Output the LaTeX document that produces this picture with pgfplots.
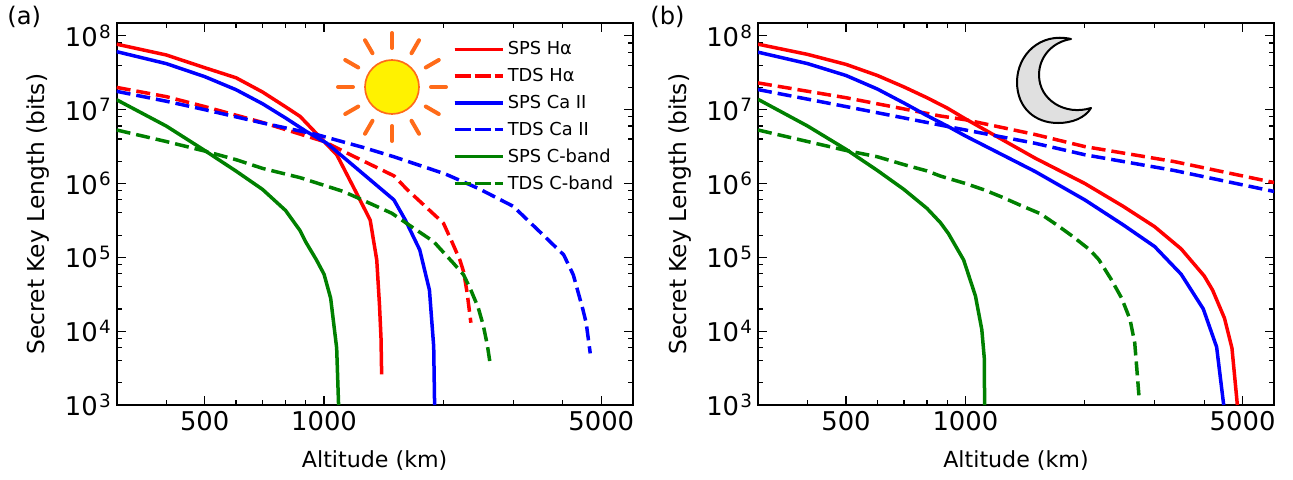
\documentclass[border=0pt]{standalone}
\usepackage{fontspec}
\setmainfont{DejaVu Sans}
\usepackage{pgfplots}
\pgfplotsset{compat=1.18}
\definecolor{cgreen}{rgb}{0,0.5,0}
\definecolor{sunor}{rgb}{1,0.42,0.1}
\newcommand{\tenp}[1]{10\kern0.8pt\raisebox{5pt}{\fontsize{11}{11}\selectfont #1}}
\tikzset{
  solidser/.style={line width=2.1pt,line join=round},
  dashser/.style={line width=2.1pt,dash pattern=on 8.4pt off 3.6pt,line join=round},
}
\pgfplotsset{
  mypanel/.style={
    scale only axis, width=309.6pt, height=229.2pt,
    xmin=300, xmax=6000, ymin=1e3, ymax=1.49e8,
    axis line style={line width=1pt}, 
    tick align=inside, tick style={black,line width=0.7pt},
    major tick length=5.4pt, minor tick length=3pt,
    xtick={500,1000,5000}, xticklabels={500,1000,5000},
    minor xtick={400,600,700,800,900,2000,3000,4000},
    ytick={1e3,1e4,1e5,1e6,1e7,1e8},
    yticklabels={\tenp{3},\tenp{4},\tenp{5},\tenp{6},\tenp{7},\tenp{8}},
    minor ytick={2e3,4e3,6e3,8e3,2e4,4e4,6e4,8e4,2e5,4e5,6e5,8e5,2e6,4e6,6e6,8e6,2e7,4e7,6e7,8e7},
    tick label style={font=\fontsize{15.5}{18}\selectfont},
    xlabel style={font=\fontsize{13.3}{17}\selectfont},
    ylabel style={font=\fontsize{14}{17}\selectfont},
    xlabel={Altitude (km)}, ylabel={Secret Key Length (bits)},
    xlabel style={at={(axis description cs:0.5,-0.145)},anchor=center},
    ylabel style={at={(axis description cs:-0.1515,0.5)},anchor=center},
    legend cell align=left,
  },
}
\begin{document}
\begin{tikzpicture}
\path[use as bounding box] (0pt,0pt) rectangle (775.8pt,-287.4pt);
\begin{axis}[xmode=log, ymode=log, mypanel, at={(70pt,-243pt)}, anchor=south west,
  legend style={at={(0.651,0.961)},anchor=north west,draw=none,fill=none,font=\fontsize{10.7}{13}\selectfont,row sep=2.6pt,inner sep=0pt},
  legend image code/.code={\draw[#1,dash phase=10.6pt] (0pt,0pt) -- (25pt,0pt); \path (0pt,0pt) -- (28.8pt,0pt);}]
\addplot[solidser,red] coordinates {(300,7.7e7)(400,5.5e7)(500,3.7e7)(600,2.7e7)(700,1.73e7)(800,1.09e7)(870,8.1e6)(1000,3.7e6)(1077,2.44e6)(1200,7.9e5)(1307,3.2e5)(1358,9.2e4)(1380,2.2e4)(1392,8e3)(1397,2.6e3)};
\addlegendentry{SPS Hα}
\addplot[dashser,red] coordinates {(300,2.0e7)(400,1.5e7)(500,1.1e7)(700,6.7e6)(1000,3.7e6)(1200,2.27e6)(1500,1.27e6)(1623,8.2e5)(2000,2.9e5)(2100,1.63e5)(2200,9.2e4)(2248,6.4e4)(2295,3.3e4)(2345,1.3e4)};
\addlegendentry{TDS Hα}
\addplot[solidser,blue] coordinates {(300,6.1e7)(400,4.2e7)(500,2.8e7)(600,1.86e7)(700,1.2e7)(800,7.7e6)(900,5.1e6)(1017,3.5e6)(1500,6e5)(1603,3.2e5)(1743,1.26e5)(1844,3.6e4)(1890,6.2e3)(1900,1e3)};
\addlegendentry{SPS Ca II}
\addplot[dashser,blue] coordinates {(300,1.77e7)(400,1.3e7)(500,1e7)(700,6.6e6)(957,4.6e6)(1257,3.07e6)(1500,2.3e6)(2018,1.35e6)(2446,8.6e5)(3000,4.9e5)(3570,2e5)(4020,1.08e5)(4250,5.8e4)(4490,2e4)(4580,1.3e4)(4690,5e3)};
\addlegendentry{TDS Ca II}
\addplot[solidser,cgreen] coordinates {(300,1.36e7)(400,6e6)(500,2.8e6)(600,1.47e6)(700,8.3e5)(800,4.3e5)(870,2.3e5)(900,1.6e5)(957,9.2e4)(1000,5.9e4)(1039,2.8e4)(1076,5.9e3)(1088,1e3)};
\addlegendentry{SPS C-band}
\addplot[dashser,cgreen] coordinates {(300,5.3e6)(400,3.7e6)(500,2.75e6)(600,2.1e6)(700,1.6e6)(870,1.2e6)(1118,7.8e5)(1223,6.3e5)(1482,3.95e5)(1680,2.5e5)(1890,1.63e5)(2120,8.3e4)(2248,5.8e4)(2345,3.6e4)(2446,2.1e4)(2520,1.2e4)(2580,6.5e3)(2630,3.3e3)};
\addlegendentry{TDS C-band}
\end{axis}
\begin{axis}[xmode=log, ymode=log, mypanel, at={(454.8pt,-243pt)}, anchor=south west]
\addplot[solidser,red] coordinates {(300,7.7e7)(400,5.6e7)(500,4.1e7)(600,2.9e7)(700,2.03e7)(800,1.45e7)(900,1.05e7)(1000,7.5e6)(1500,2.2e6)(2000,1e6)(2500,4.9e5)(3000,2.6e5)(3500,1.3e5)(4000,5.6e4)(4200,3.6e4)(4500,1.5e4)(4700,5.9e3)(4850,1e3)};
\addplot[dashser,red] coordinates {(300,2.3e7)(500,1.45e7)(865,8.2e6)(1000,7.3e6)(1500,4.6e6)(2000,3.16e6)(3360,1.98e6)(6000,1.03e6)};
\addplot[solidser,blue] coordinates {(300,6e7)(400,4.2e7)(500,2.9e7)(600,1.9e7)(700,1.23e7)(800,8.3e6)(900,6e6)(1000,4.4e6)(1500,1.45e6)(2000,6e5)(2500,2.75e5)(3000,1.4e5)(3500,5.9e4)(3980,2e4)(4300,6.1e3)(4480,1e3)};
\addplot[dashser,blue] coordinates {(300,1.87e7)(500,1.1e7)(1000,5.3e6)(1500,3.5e6)(2000,2.45e6)(3360,1.5e6)(6000,7.8e5)};
\addplot[solidser,cgreen] coordinates {(300,1.38e7)(400,6e6)(500,2.9e6)(600,1.5e6)(700,8.3e5)(800,4.6e5)(865,2.95e5)(906,2.1e5)(990,9.2e4)(1060,3e4)(1100,1.05e4)(1116,4.3e3)(1118,1e3)};
\addplot[dashser,cgreen] coordinates {(300,5.3e6)(400,3.7e6)(500,2.8e6)(600,2.3e6)(700,1.8e6)(800,1.48e6)(865,1.26e6)(1000,1e6)(1115,8.2e5)(1240,6.5e5)(1373,5.1e5)(1545,3.9e5)(1700,2.75e5)(1870,1.9e5)(2060,1.26e5)(2170,9.3e4)(2333,5e4)(2477,2.8e4)(2600,1.45e4)(2673,6.9e3)(2711,2.7e3)(2744,1.17e3)};
\end{axis}
\begin{scope}[x=0.6pt,y=-0.6pt]
\node[font=\fontsize{14.5}{18}\selectfont,anchor=base west,inner sep=0pt] at (7,24) {(a)};
\node[font=\fontsize{14.5}{18}\selectfont,anchor=base west,inner sep=0pt] at (650,24) {(b)};
\begin{scope}[shift={(392,87)}]
\fill[yellow,draw=sunor,line width=1pt] (0,0) circle [radius=27];
\foreach \a in {0,30,...,330}{
  \draw[sunor,line width=2.4pt,line cap=round] (\a:39) -- (\a:54);
}
\end{scope}
\draw[black,fill=black!12,line width=1.2pt,line join=round]
 (1071,39) .. controls (1040,32) and (1017,55) .. (1017,82)
 .. controls (1017,108) and (1035,123) .. (1058,123)
 .. controls (1072,123) and (1085,118) .. (1091,108)
 .. controls (1065,116) and (1039,100) .. (1039,75)
 .. controls (1039,57) and (1052,42) .. (1071,39) -- cycle;
\end{scope}
\end{tikzpicture}
\end{document}
